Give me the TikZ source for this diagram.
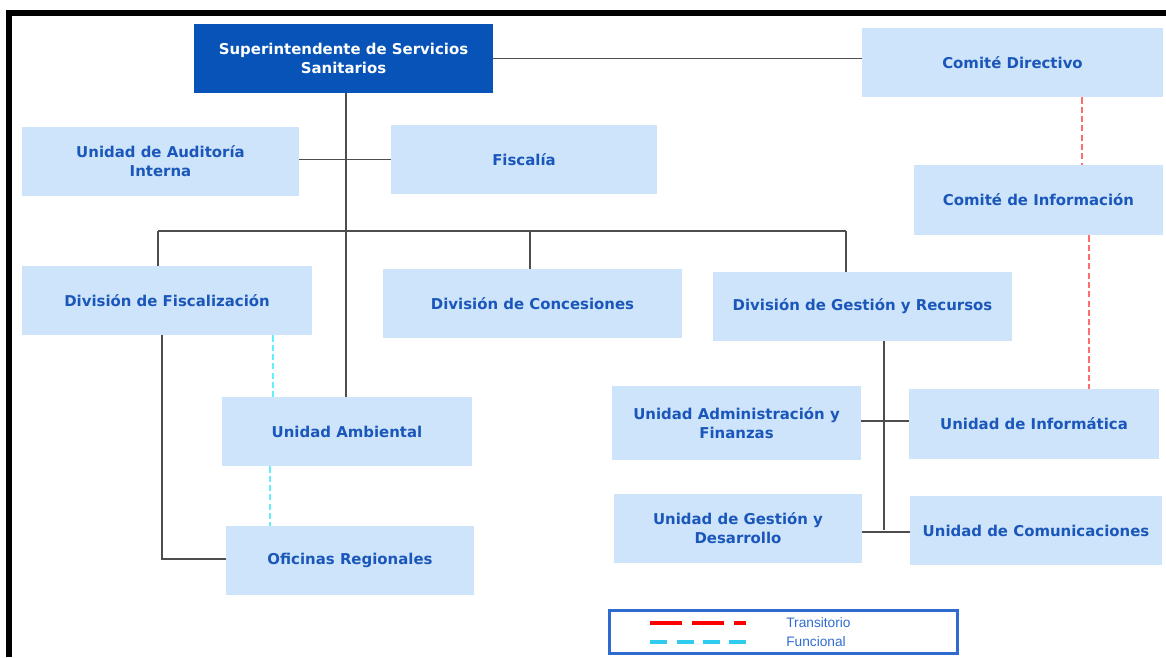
\documentclass[tikz,border=0pt]{standalone}
\usepackage{fontspec}
\usepackage{tikz}
\newfontfamily\orgfont{DejaVu Sans}
\setmainfont{Liberation Sans}
\definecolor{boxlight}{HTML}{CDE4FA}
\definecolor{boxdark}{HTML}{0753B7}
\definecolor{txtblue}{HTML}{1B57BA}
\definecolor{linegray}{HTML}{4D4D4D}
\definecolor{transred}{HTML}{FF6E6E}
\definecolor{funccyan}{HTML}{66EEFF}
\definecolor{legcyan}{HTML}{30CCF0}
\definecolor{legblue}{HTML}{2F6BCF}
\tikzset{
  unit/.style={fill=boxlight, text=txtblue, align=center, inner sep=0pt,
    font=\orgfont\bfseries\fontsize{8.5}{10.8}\selectfont},
  head/.style={unit, fill=boxdark, text=white},
  link/.style={draw=linegray, line width=0.8pt},
  trans/.style={draw=transred, line width=1.1pt, dash pattern=on 3.5pt off 1.8pt},
  func/.style={draw=funccyan, line width=1.1pt, dash pattern=on 3.5pt off 1.8pt}
}
\begin{document}
\begin{tikzpicture}[x=0.02cm, y=-0.02cm]
  \useasboundingbox (0,0) rectangle (1166,657);
  % frame
  \fill[black] (6,10) rectangle (1166,16);
  \fill[black] (6,10) rectangle (12,657);

  % units
  \node[head, minimum width=5.98cm, minimum height=1.38cm] (sup) at (343.5,58.5) {Superintendente de Servicios\\Sanitarios};
  \node[unit, minimum width=6.02cm, minimum height=1.38cm] (cdir) at (1012.5,62.5) {Comité Directivo};
  \node[unit, minimum width=5.54cm, minimum height=1.38cm] (uai) at (160.5,161.5) {Unidad de Auditoría\\Interna};
  \node[unit, minimum width=5.32cm, minimum height=1.38cm] (fisc) at (524,159.5) {Fiscalía};
  \node[unit, minimum width=4.98cm, minimum height=1.40cm] (cinf) at (1038.5,200) {Comité de Información};
  \node[unit, minimum width=5.80cm, minimum height=1.38cm] (dfis) at (167,300.5) {División de Fiscalización};
  \node[unit, minimum width=5.98cm, minimum height=1.38cm] (dcon) at (532.5,303.5) {División de Concesiones};
  \node[unit, minimum width=5.98cm, minimum height=1.38cm] (dges) at (862.5,306.5) {División de Gestión y Recursos};
  \node[unit, minimum width=5.00cm, minimum height=1.38cm] (uamb) at (347,431.5) {Unidad Ambiental};
  \node[unit, minimum width=4.98cm, minimum height=1.48cm] (uadm) at (736.5,423) {Unidad Administración y\\Finanzas};
  \node[unit, minimum width=5.00cm, minimum height=1.40cm] (uinf) at (1034,424) {Unidad de Informática};
  \node[unit, minimum width=4.96cm, minimum height=1.38cm] (ugd) at (738,528.5) {Unidad de Gestión y\\Desarrollo};
  \node[unit, minimum width=5.04cm, minimum height=1.38cm] (ucom) at (1036,530.5) {Unidad de Comunicaciones};
  \node[unit, minimum width=4.96cm, minimum height=1.38cm] (ofreg) at (350,560.5) {Oficinas Regionales};

  % bends and buses
  \coordinate (spine) at (346,231);
  \coordinate (busl) at (158,231);
  \coordinate (busm) at (530,231);
  \coordinate (busr) at (846,231);
  \coordinate (fbend) at (162,559);
  \coordinate (gmid) at (884,421);
  \coordinate (gbot) at (884,532);
  \coordinate (cyan1) at (273,0);
  \coordinate (cyan2) at (270,0);
  \coordinate (red1) at (1082,0);
  \coordinate (red2) at (1089,0);

  % solid links
  \draw[link] (sup.east) -- (sup.east -| cdir.west);
  \draw[link] (sup.south -| spine) -- (uamb.north -| spine);
  \draw[link] (uai.east |- fisc) -- (fisc.west);
  \draw[link] (busl) -- (busr);
  \draw[link] (busl) -- (dfis.north -| busl);
  \draw[link] (busm) -- (dcon.north -| busm);
  \draw[link] (busr) -- (dges.north -| busr);
  \draw[link] (dfis.south -| fbend) -- (fbend) -- (ofreg.west |- fbend);
  \draw[link] (dges.south -| gmid) -- (884,530);
  \draw[link] (uadm.east |- gmid) -- (uinf.west |- gmid);
  \draw[link] (ugd.east |- gbot) -- (ucom.west |- gbot);

  % dashed links
  \draw[func] (dfis.south -| cyan1) -- (uamb.north -| cyan1);
  \draw[func] (uamb.south -| cyan2) -- (ofreg.north -| cyan2);
  \draw[trans] (cdir.south -| red1) -- (cinf.north -| red1);
  \draw[trans] (cinf.south -| red2) -- (uinf.north -| red2);

  % legend
  \node[draw=legblue, line width=1.2pt, minimum width=6.96cm, minimum height=0.86cm, inner sep=0pt] (legend) at (783.5,632) {};
  \coordinate (ltr1) at (650,623);
  \coordinate (ltr2) at (746,623);
  \coordinate (lfu1) at (650,642);
  \coordinate (lfu2) at (746,642);
  \draw[draw=red, line width=2.2pt, dash pattern=on 0.64cm off 0.2cm] (ltr1) -- (ltr2);
  \draw[draw=legcyan, line width=2.2pt, dash pattern=on 0.34cm off 0.19cm] (lfu1) -- (lfu2);
  \node[anchor=west, text=legblue, font=\fontsize{7.8}{9}\selectfont, inner sep=0pt] (ltr) at (786,623) {Transitorio};
  \node[anchor=west, text=legblue, font=\fontsize{7.8}{9}\selectfont, inner sep=0pt] (lfu) at (786,642) {Funcional};
\end{tikzpicture}
\end{document}
